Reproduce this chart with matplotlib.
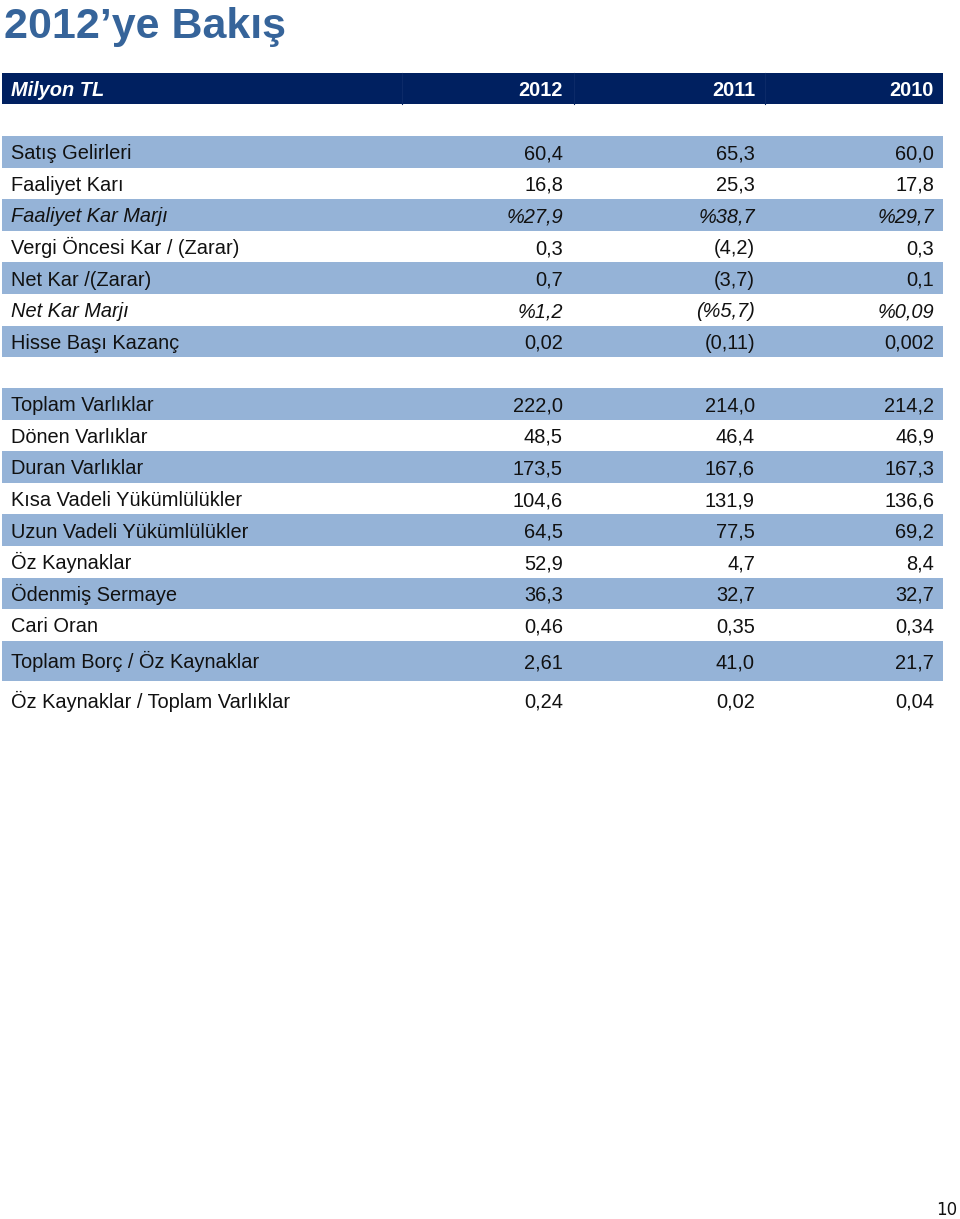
import matplotlib.pyplot as plt

# table content
title = "2012\u2019ye Bak\u0131\u015f"
unit_label = "Milyon TL"
years = ["2012", "2011", "2010"]

labels_ops = ["Sat\u0131\u015f Gelirleri", "Faaliyet Kar\u0131", "Faaliyet Kar Marj\u0131",
              "Vergi \u00d6ncesi Kar / (Zarar)", "Net Kar /(Zarar)", "Net Kar Marj\u0131",
              "Hisse Ba\u015f\u0131 Kazan\u00e7"]
vals_ops_2012 = ["60,4", "16,8", "%27,9", "0,3", "0,7", "%1,2", "0,02"]
vals_ops_2011 = ["65,3", "25,3", "%38,7", "(4,2)", "(3,7)", "(%5,7)", "(0,11)"]
vals_ops_2010 = ["60,0", "17,8", "%29,7", "0,3", "0,1", "%0,09", "0,002"]
italic_rows = ["Faaliyet Kar Marj\u0131", "Net Kar Marj\u0131"]

labels_bal = ["Toplam Varl\u0131klar", "D\u00f6nen Varl\u0131klar", "Duran Varl\u0131klar",
              "K\u0131sa Vadeli Y\u00fck\u00fcml\u00fcl\u00fckler", "Uzun Vadeli Y\u00fck\u00fcml\u00fcl\u00fckler",
              "\u00d6z Kaynaklar", "\u00d6denmi\u015f Sermaye", "Cari Oran"]
vals_bal_2012 = ["222,0", "48,5", "173,5", "104,6", "64,5", "52,9", "36,3", "0,46"]
vals_bal_2011 = ["214,0", "46,4", "167,6", "131,9", "77,5", "4,7", "32,7", "0,35"]
vals_bal_2010 = ["214,2", "46,9", "167,3", "136,6", "69,2", "8,4", "32,7", "0,34"]

labels_ratio = ["Toplam Bor\u00e7 / \u00d6z Kaynaklar", "\u00d6z Kaynaklar / Toplam Varl\u0131klar"]
vals_ratio_2012 = ["2,61", "0,24"]
vals_ratio_2011 = ["41,0", "0,02"]
vals_ratio_2010 = ["21,7", "0,04"]

page_no = "10"

navy = "#002060"
stripe = "#95B3D7"
title_col = "#36649A"
font = "Liberation Sans"

fig = plt.figure(figsize=(9.6, 12.19), dpi=100, facecolor="w")
ax = fig.add_axes([0, 0, 1, 1])
ax.set_xlim(0, 960)
ax.set_ylim(1219, 0)
ax.axis("off")

x_left, x_right = 2, 943
x_label = 11
x_cols = [563, 755, 934]
pitch = 31.6
fs = 14.4

ax.text(4, 38, title, fontsize=31, fontweight="bold", color=title_col,
        family=font, ha="left", va="baseline")

# header bar
ax.barh(88.5, x_right - x_left, height=31, left=x_left, color=navy, edgecolor="none")
for xs in [402, 574, 765]:
    ax.plot([xs, xs], [73, 104], color="#0c2a68", lw=0.8)
ax.text(x_label, 96, unit_label, fontsize=fs, fontweight="bold", style="italic",
        color="w", family=font, ha="left", va="baseline")
for x, y in zip(x_cols, years):
    ax.text(x, 96, y, fontsize=fs, fontweight="bold", color="w", family=font,
            ha="right", va="baseline")


def draw_row(yc, label, vals, shaded, h=pitch, italic=False):
    if shaded:
        ax.barh(yc, x_right - x_left, height=h, left=x_left, color=stripe, edgecolor="none")
    st = "italic" if italic else "normal"
    ax.text(x_label, yc + 7.5, label, fontsize=fs, style=st, color="#111111",
            family=font, ha="left", va="baseline")
    for x, v in zip(x_cols, vals):
        ax.text(x, yc + 7.5, v, fontsize=fs, style=st, color="#111111",
                family=font, ha="right", va="baseline")


top = 136
for i, lab in enumerate(labels_ops):
    yc = top + pitch * i + pitch / 2
    draw_row(yc, lab, [vals_ops_2012[i], vals_ops_2011[i], vals_ops_2010[i]],
             i % 2 == 0, italic=lab in italic_rows)

top = 388
for i, lab in enumerate(labels_bal):
    yc = top + pitch * i + pitch / 2
    draw_row(yc, lab, [vals_bal_2012[i], vals_bal_2011[i], vals_bal_2010[i]], i % 2 == 0)

draw_row(661, labels_ratio[0], [vals_ratio_2012[0], vals_ratio_2011[0], vals_ratio_2010[0]],
         True, h=40)
draw_row(700, labels_ratio[1], [vals_ratio_2012[1], vals_ratio_2011[1], vals_ratio_2010[1]],
         False)

ax.text(957, 1215, page_no, fontsize=12, color="#111111", family="DejaVu Sans",
        ha="right", va="baseline")

fig.savefig("out.png", dpi=100, facecolor="w")
